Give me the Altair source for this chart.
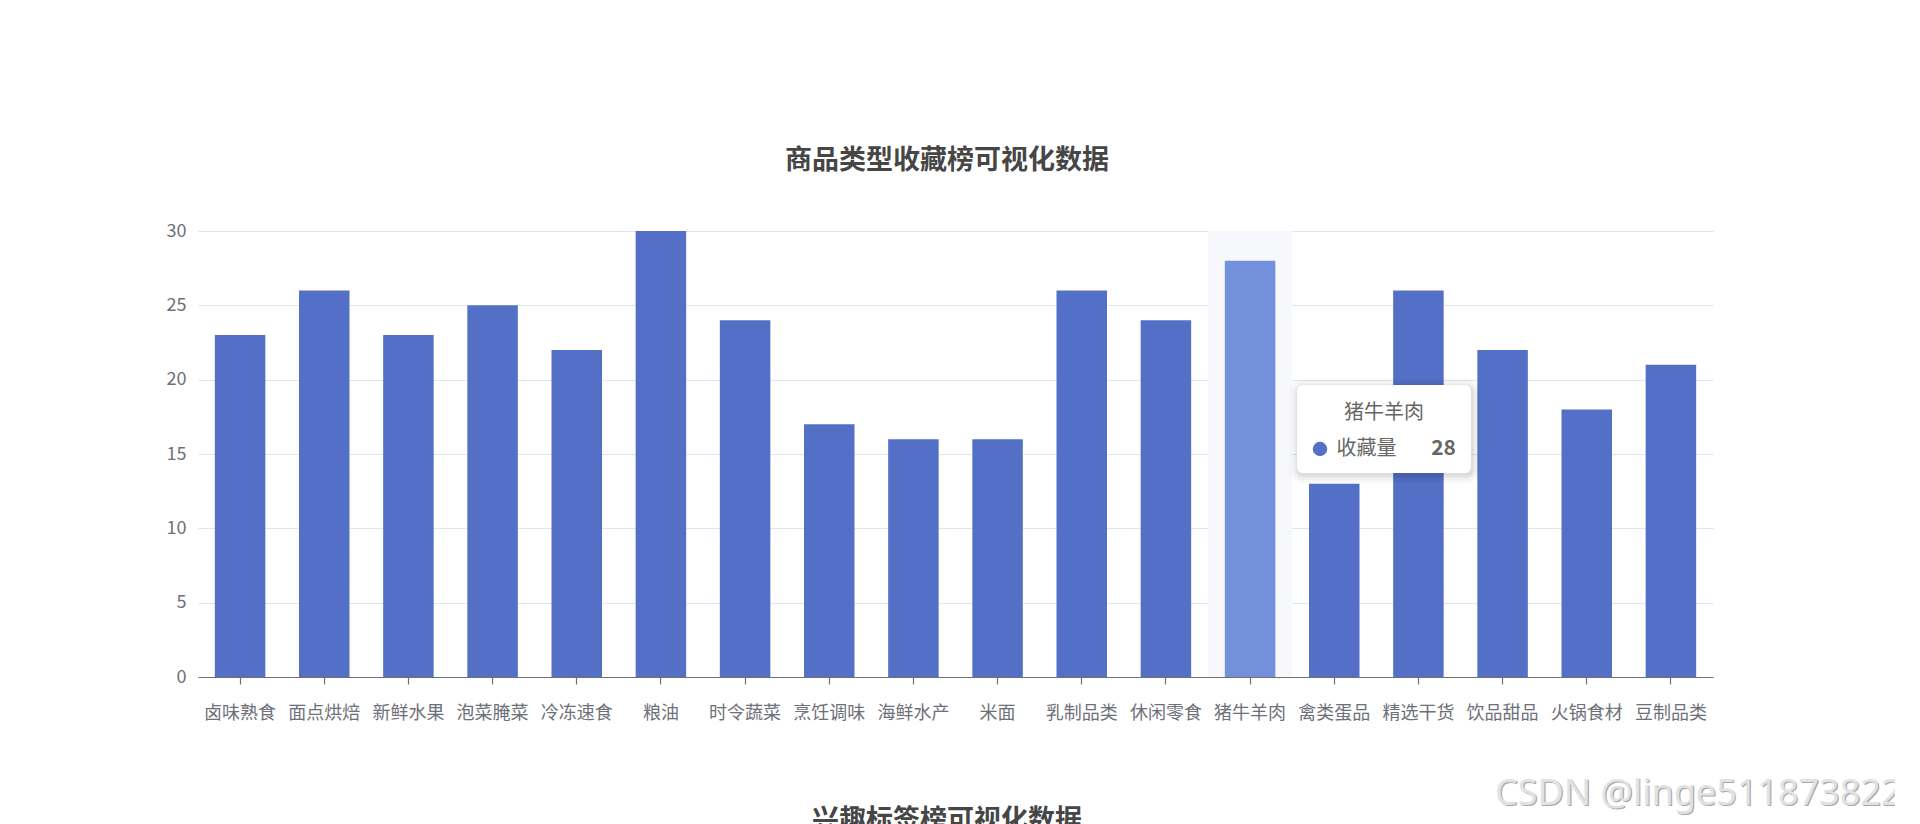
import altair as alt
import pandas as pd

# ---------------- data ----------------
CATEGORIES = ["卤味熟食", "面点烘焙", "新鲜水果", "泡菜腌菜", "冷冻速食", "粮油",
              "时令蔬菜", "烹饪调味", "海鲜水产", "米面", "乳制品类", "休闲零食",
              "猪牛羊肉", "禽类蛋品", "精选干货", "饮品甜品", "火锅食材", "豆制品类"]
VALUES = [23, 26, 23, 25, 22, 30, 24, 17, 16, 16, 26, 24, 28, 13, 26, 22, 18, 21]
Y_TICKS = [0, 5, 10, 15, 20, 25, 30]
HIGHLIGHT = "猪牛羊肉"
SERIES_NAME = "收藏量"
TITLE = "商品类型收藏榜可视化数据"
NEXT_TITLE = "兴趣标签榜可视化数据"
WATERMARK = "CSDN @linge511873822"

FONT = "Noto Sans CJK SC"
PLOT_W = 1515
PLOT_H = 446

df = pd.DataFrame({"category": CATEGORIES, "value": VALUES})
hl_value = VALUES[CATEGORIES.index(HIGHLIGHT)]

x_enc = alt.X(
    "category:N",
    sort=CATEGORIES,
    scale=alt.Scale(paddingInner=0.4, paddingOuter=0.2),
    axis=alt.Axis(
        title=None, labelAngle=0, labelOverlap=False,
        labelFont=FONT, labelFontSize=18, labelColor="#6E7079", labelPadding=20,
        domainColor="#6E7079", domainWidth=1.2,
        tickColor="#6E7079", tickSize=7, tickWidth=1.2, grid=False,
    ),
)
y_enc = alt.Y(
    "value:Q",
    scale=alt.Scale(domain=[0, 30], nice=False),
    axis=alt.Axis(
        title=None, values=Y_TICKS, domain=False, ticks=False,
        labelFont=FONT, labelFontSize=18, labelColor="#6E7079", labelPadding=12,
        grid=True, gridColor="#E0E6F1", gridWidth=1.2,
    ),
)

# axis-pointer shadow behind the hovered category
shadow = alt.Chart(df).transform_filter(
    alt.datum.category == HIGHLIGHT
).mark_bar(width=alt.RelativeBandSize(1 / 0.6), color="#F6F8FC").encode(
    x=x_enc, y=alt.value(0), y2=alt.value(PLOT_H)
)

bars = alt.Chart(df).mark_bar().encode(
    x=x_enc,
    y=y_enc,
    color=alt.condition(alt.datum.category == HIGHLIGHT,
                        alt.value("#7390DB"), alt.value("#5470C6")),
)


def text_layer(label, x, y, font=FONT, **mk):
    return alt.Chart(pd.DataFrame({"t": [label]})).mark_text(font=font, **mk).encode(
        text="t:N", x=alt.value(x), y=alt.value(y)
    )


title = text_layer(TITLE, 749, -70.5, fontSize=27, fontWeight="bold",
                   color="#464646", align="center", baseline="middle")
next_title = text_layer(NEXT_TITLE, 749, 589.5, fontSize=27, fontWeight="bold",
                        color="#464646", align="center", baseline="middle")

# tooltip box (with soft shadow)
BX1, BX2, BY1, BY2 = 1099, 1273, 154, 242
box_layers = []
for e, op in [(9, 0.015), (7, 0.02), (5, 0.025), (3, 0.03), (1.5, 0.04)]:
    box_layers.append(
        alt.Chart(pd.DataFrame({"t": [HIGHLIGHT]})).mark_rect(
            cornerRadius=6 + e, color="#000000", opacity=op
        ).encode(x=alt.value(BX1 - e + 1), x2=alt.value(BX2 + e + 1),
                 y=alt.value(BY1 - e + 2), y2=alt.value(BY2 + e + 2))
    )
box = alt.Chart(pd.DataFrame({"t": [HIGHLIGHT]})).mark_rect(
    cornerRadius=6, color="#FFFFFF"
).encode(x=alt.value(BX1), x2=alt.value(BX2), y=alt.value(BY1), y2=alt.value(BY2))

tt_title = text_layer(HIGHLIGHT, 1186, 182, fontSize=20, color="#666666",
                      align="center", baseline="middle")
tt_dot = alt.Chart(pd.DataFrame({"t": [HIGHLIGHT]})).mark_point(
    shape="circle", filled=True, size=210, color="#5470C6", opacity=1
).encode(x=alt.value(1122), y=alt.value(218))
tt_name = text_layer(SERIES_NAME, 1138.5, 218, fontSize=20, color="#666666",
                     align="left", baseline="middle")
tt_value = text_layer(str(hl_value), 1258, 218, fontSize=21, fontWeight="bold",
                      color="#666666", align="right", baseline="middle")

# watermark (light text with a soft darker edge)
wm_shadow = text_layer(WATERMARK, 1298.2, 575.2, font="Noto Sans", fontSize=36,
                       color="#A8A8A8", align="left", baseline="alphabetic")
wm = text_layer(WATERMARK, 1297, 574, font="Noto Sans", fontSize=36,
                color="#E2E2E2", align="left", baseline="alphabetic")

chart = alt.layer(
    shadow, bars, title, next_title, *box_layers, box,
    tt_title, tt_dot, tt_name, tt_value, wm_shadow, wm
).properties(
    width=PLOT_W,
    height=PLOT_H,
    padding={"left": 190, "top": 223, "right": 182, "bottom": 147},
    autosize=alt.AutoSizeParams(type="none"),
    background="#FFFFFF",
).configure(font=FONT).configure_view(stroke=None)

chart.save("out.html", embed_options={"renderer": "svg", "actions": False})
